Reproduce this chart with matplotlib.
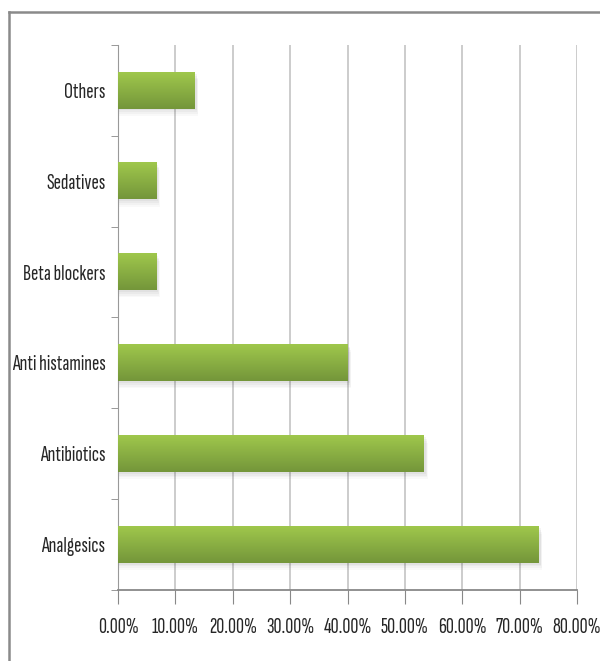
import numpy as np
import matplotlib.pyplot as plt
from matplotlib.lines import Line2D
from matplotlib.colors import LinearSegmentedColormap

categories = ['Analgesics', 'Antibiotics', 'Anti histamines', 'Beta blockers', 'Sedatives', 'Others']
values = [73.33, 53.33, 40.0, 6.67, 6.67, 13.33]
xticks = [0, 10, 20, 30, 40, 50, 60, 70, 80]

plt.rcParams['font.family'] = ['Sofia Sans Extra Condensed', 'DejaVu Sans']

fig = plt.figure(figsize=(6, 6.61), dpi=100)
ax = fig.add_axes([0.1967, 0.1074, 0.765, 0.8246])

# frame around the chart (top and left only)
fig.add_artist(Line2D([9/600, 1], [1-12/661, 1-12/661], color='#8a8a8a', lw=1.8, transform=fig.transFigure))
fig.add_artist(Line2D([9/600, 9/600], [0, 1-12/661], color='#8a8a8a', lw=1.8, transform=fig.transFigure))

y = np.arange(len(categories))
h = 0.4
grad = LinearSegmentedColormap.from_list('g', ['#74963a', '#9fc74c'])
gimg = np.linspace(0, 1, 50).reshape(-1, 1)

for yi, v in zip(y, values):
    # soft shadow
    for k, a in enumerate([0.06, 0.05, 0.04, 0.03]):
        d = 0.02 * (k + 1)
        ax.add_patch(plt.Rectangle((0, yi - h/2 - d), v + 0.35 + 0.1*k, h, color='#555555',
                                   alpha=a, lw=0, zorder=2))
    ax.imshow(gimg, cmap=grad, aspect='auto', origin='lower',
              extent=[0, v, yi - h/2, yi + h/2], zorder=3)

ax.set_xlim(0, 80)
ax.set_ylim(-0.5, len(categories) - 0.5)
ax.set_xticks(xticks)
ax.set_xticklabels(['%.2f%%' % t for t in xticks], fontsize=16, color='#262626')
ax.set_yticks(y)
ax.set_yticklabels(categories, fontsize=16, color='#262626')
ax.set_yticks(np.arange(-0.5, len(categories)), minor=True)
ax.tick_params(axis='y', which='major', length=0, pad=9)
ax.tick_params(axis='y', which='minor', length=5, color='#888888', direction='out')
ax.tick_params(axis='x', length=10, color='#888888', direction='out', pad=10)
ax.grid(axis='x', color='#c8c8c8', lw=1.3, zorder=0)
ax.set_axisbelow(True)
for s in ['top', 'right']:
    ax.spines[s].set_visible(False)
ax.spines['left'].set_color('#999999')
ax.spines['bottom'].set_color('#888888')
ax.spines['bottom'].set_linewidth(1.3)

fig.savefig('out.png', dpi=100)
